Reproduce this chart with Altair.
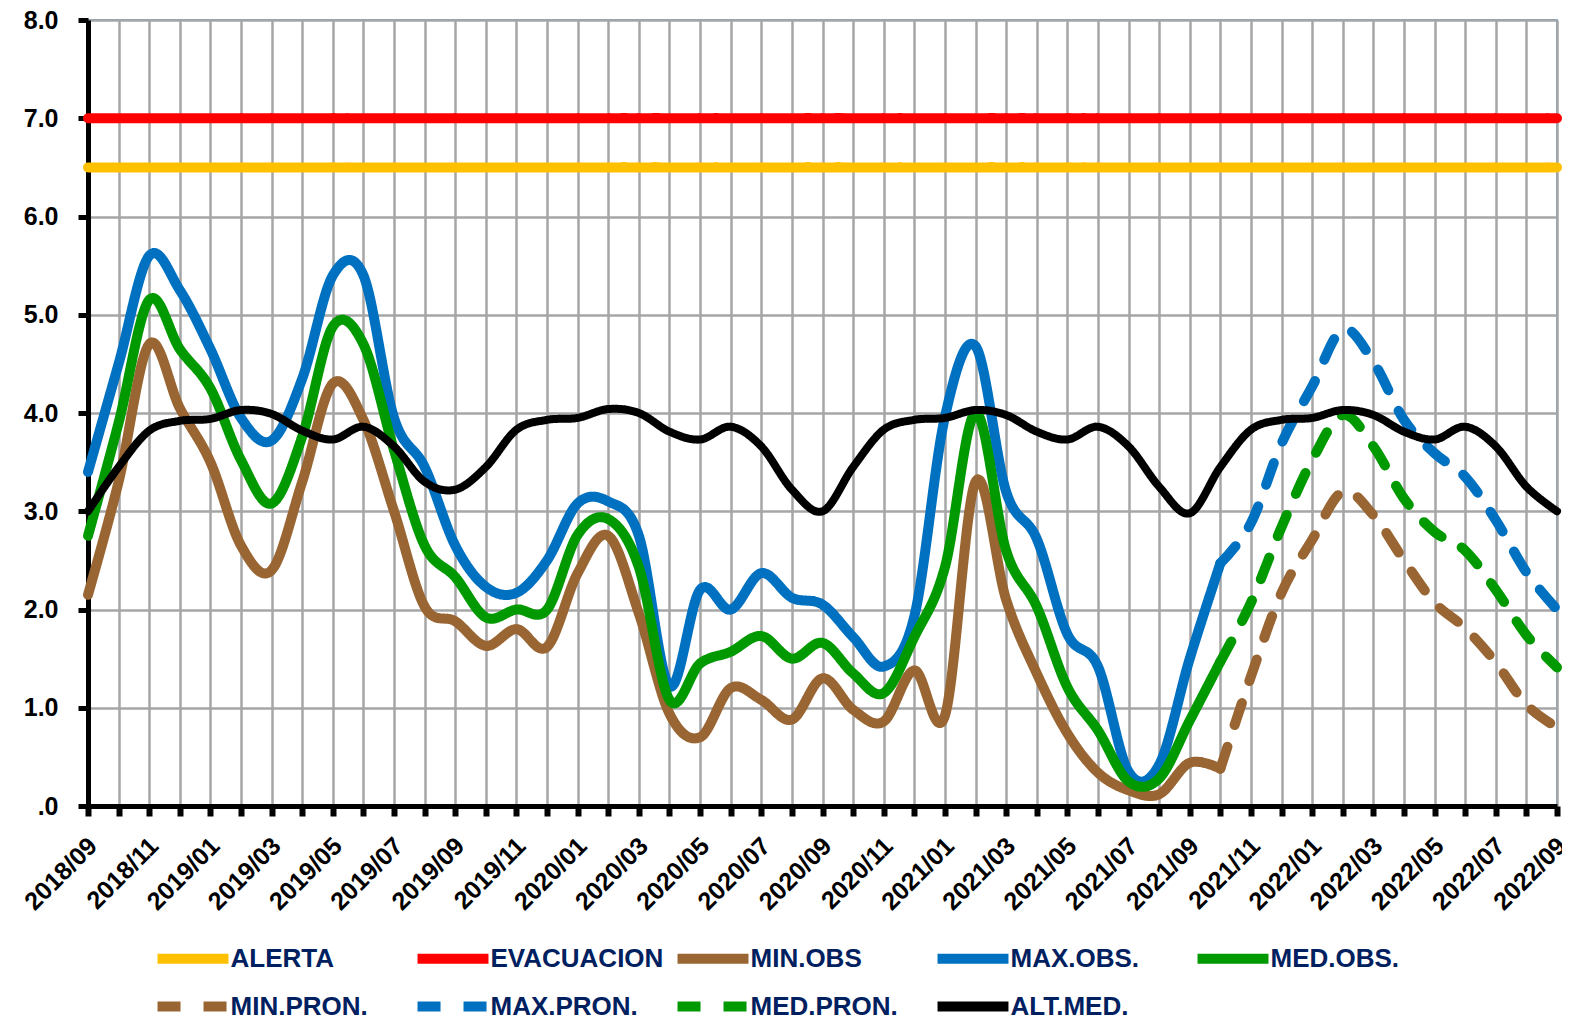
import altair as alt
import pandas as pd

MONTHS = [
    "2018/09", "2018/10", "2018/11", "2018/12", "2019/01", "2019/02", "2019/03", "2019/04",
    "2019/05", "2019/06", "2019/07", "2019/08", "2019/09", "2019/10", "2019/11", "2019/12",
    "2020/01", "2020/02", "2020/03", "2020/04", "2020/05", "2020/06", "2020/07", "2020/08",
    "2020/09", "2020/10", "2020/11", "2020/12", "2021/01", "2021/02", "2021/03", "2021/04",
    "2021/05", "2021/06", "2021/07", "2021/08", "2021/09", "2021/10", "2021/11", "2021/12",
    "2022/01", "2022/02", "2022/03", "2022/04", "2022/05", "2022/06", "2022/07", "2022/08",
    "2022/09",
]

SERIES = ["ALERTA", "EVACUACION", "MIN.OBS", "MAX.OBS.", "MED.OBS.",
          "MIN.PRON.", "MAX.PRON.", "MED.PRON.", "ALT.MED."]
COLORS = ["#FFC000", "#FF0000", "#996633", "#0070C0", "#009900",
          "#996633", "#0070C0", "#009900", "#000000"]
DASHES = [[1, 0], [1, 0], [1, 0], [1, 0], [1, 0],
          [23, 23], [23, 23], [23, 23], [1, 0]]

ALERTA = 6.5
EVACUACION = 7.0

# observed: 2018/09 .. 2021/10
MIN_OBS = [2.15, 3.3, 4.7, 4.05, 3.5, 2.65, 2.4, 3.3, 4.3, 3.93, 3.0, 2.03, 1.88, 1.63,
           1.8, 1.62, 2.37, 2.75, 1.96, 0.94, 0.7, 1.2, 1.08, 0.88, 1.3, 0.98, 0.86, 1.38,
           0.92, 3.3, 2.1, 1.35, 0.74, 0.34, 0.16, 0.12, 0.44, 0.38]
MAX_OBS = [3.4, 4.5, 5.6, 5.25, 4.65, 3.95, 3.72, 4.35, 5.4, 5.4, 3.95, 3.45, 2.65, 2.23,
           2.17, 2.5, 3.08, 3.1, 2.75, 1.22, 2.2, 2.0, 2.37, 2.12, 2.05, 1.72, 1.42, 1.93,
           3.96, 4.68, 3.2, 2.72, 1.75, 1.42, 0.35, 0.42, 1.5, 2.47]
MED_OBS = [2.75, 3.9, 5.15, 4.65, 4.25, 3.52, 3.08, 3.76, 4.88, 4.7, 3.62, 2.65, 2.33, 1.92,
           2.0, 2.0, 2.76, 2.92, 2.43, 1.08, 1.45, 1.57, 1.73, 1.5, 1.66, 1.35, 1.15, 1.72,
           2.43, 4.0, 2.6, 2.03, 1.21, 0.77, 0.25, 0.28, 0.87, 1.47]
# forecast: 2021/10 .. 2022/09
MIN_PRON = [0.38, 1.32, 2.17, 2.71, 3.2, 2.96, 2.5, 2.07, 1.81, 1.46, 1.03, 0.8]
MAX_PRON = [2.47, 2.88, 3.69, 4.27, 4.85, 4.52, 3.93, 3.59, 3.35, 2.91, 2.38, 2.0]
MED_PRON = [1.47, 2.07, 2.84, 3.52, 3.98, 3.66, 3.13, 2.79, 2.6, 2.2, 1.74, 1.41]
# 2018/09 .. 2022/09
ALT_MED = [3.0, 3.45, 3.82, 3.92, 3.94, 4.03, 3.99, 3.82, 3.73, 3.86, 3.66, 3.3, 3.22,
           3.45, 3.83, 3.93, 3.95, 4.04, 4.0, 3.81, 3.73, 3.86, 3.66, 3.22, 3.0,
           3.45, 3.83, 3.93, 3.95, 4.03, 3.98, 3.81, 3.73, 3.86, 3.66, 3.25, 2.98,
           3.45, 3.83, 3.93, 3.95, 4.03, 3.98, 3.81, 3.73, 3.86, 3.66, 3.25, 3.0]

OBS_START = 0
PRON_START = 37

rows = []


def add(name, start, values):
    for k, v in enumerate(values):
        rows.append({"mes": MONTHS[start + k], "serie": name, "valor": v, "orden": start + k})


add("ALERTA", 0, [ALERTA] * len(MONTHS))
add("EVACUACION", 0, [EVACUACION] * len(MONTHS))
add("MIN.OBS", OBS_START, MIN_OBS)
add("MAX.OBS.", OBS_START, MAX_OBS)
add("MED.OBS.", OBS_START, MED_OBS)
add("MIN.PRON.", PRON_START, MIN_PRON)
add("MAX.PRON.", PRON_START, MAX_PRON)
add("MED.PRON.", PRON_START, MED_PRON)
add("ALT.MED.", 0, ALT_MED)

df = pd.DataFrame(rows)

FONT = "Liberation Sans, Arial, sans-serif"

legend = alt.Legend(
    title=None, orient="none", legendX=83.5, legendY=917, direction="horizontal",
    columns=5, gridAlign="all", columnPadding=-6, rowPadding=6, padding=0,
    symbolType="M-2.15,0H2.15", symbolSize=1089, symbolStrokeWidth=10,
    labelFont=FONT, labelFontSize=26, labelFontWeight="bold", labelColor="#002060",
    labelOffset=16, labelLimit=500,
)

x_enc = alt.X(
    "mes:O",
    scale=alt.Scale(type="point", domain=MONTHS, padding=0),
    axis=alt.Axis(
        title=None, labelAngle=-45, labelAlign="right", labelBaseline="top",
        labelFont=FONT, labelFontSize=25, labelFontWeight="bold", labelColor="#000000",
        labelExpr="toNumber(substring(datum.value, 5, 7)) % 2 == 1 ? datum.value : ''",
        labelPadding=17, labelOffset=-4, labelOverlap=False,
        domainColor="#000000", domainWidth=5, tickColor="#000000", tickWidth=6, tickSize=10,
        grid=True, gridColor="#A6A6A6", gridWidth=2.5,
    ),
)
y_enc = alt.Y(
    "valor:Q",
    scale=alt.Scale(domain=[0, 8], nice=False),
    axis=alt.Axis(
        title=None, values=[0, 1, 2, 3, 4, 5, 6, 7, 8],
        labelExpr="datum.value == 0 ? '.0' : format(datum.value, '.1f')",
        labelFont=FONT, labelFontSize=25, labelFontWeight="bold", labelColor="#000000",
        labelPadding=20, domainColor="#000000", domainWidth=5,
        tickColor="#000000", tickWidth=5, tickSize=10,
        grid=True, gridColor="#A6A6A6", gridWidth=2.5,
    ),
)

layers = []
for s in SERIES:
    layers.append(
        alt.Chart(df)
        .transform_filter(alt.datum.serie == s)
        .mark_line(interpolate="cardinal", strokeWidth=8 if s == "ALT.MED." else 10,
                   strokeCap="round", strokeJoin="round")
        .encode(
            x=x_enc,
            y=y_enc,
            color=alt.Color("serie:N", scale=alt.Scale(domain=SERIES, range=COLORS), legend=legend),
            strokeDash=alt.StrokeDash("serie:N", scale=alt.Scale(domain=SERIES, range=DASHES), legend=legend),
            order=alt.Order("orden:Q"),
        )
    )

chart = (
    alt.layer(*layers)
    .properties(
        width=1469, height=786,
        autosize=alt.AutoSizeParams(type="none"),
        padding={"left": 80, "top": 12, "right": 5, "bottom": 214},
        background="#FFFFFF",
    )
    .configure_view(stroke="#2E86DE", strokeWidth=1.5)
)

chart.save("out.html", embed_options={"renderer": "svg", "actions": False})
